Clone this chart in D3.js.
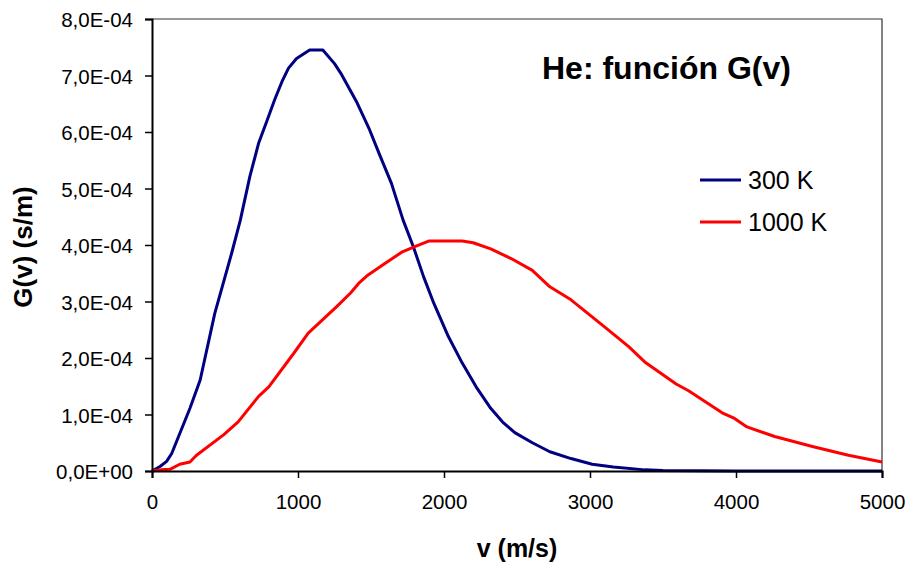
<!DOCTYPE html>
<html lang="es">
<head>
  <meta charset="utf-8">
  <title>He: función G(v)</title>
  <script src="https://d3js.org/d3.v7.min.js"></script>
  <style>
    body { margin: 0; background: #fff; }
    svg text { font-family: "Liberation Sans", Arial, sans-serif; fill: #000; }
    .tick text { font-size: 20.5px; }
    .line { fill: none; stroke-width: 3px; stroke-linejoin: round; }
  </style>
</head>
<body>
<svg width="909" height="565"></svg>
<script>
// velocidades (m/s) y G(v) en unidades de 1e-4 s/m
var v300 = [0, 55, 100, 135, 260, 330, 430, 545, 605, 670, 730, 785, 840, 890, 935, 990, 1080, 1170, 1250, 1300, 1400, 1490, 1560, 1640, 1720, 1790, 1860, 1930, 2030, 2125, 2220, 2320, 2400, 2485, 2605, 2725, 2870, 3015, 3160, 3375, 3500, 4000, 5000];
var g300 = [0, 0.08, 0.17, 0.31, 1.11, 1.61, 2.79, 3.85, 4.44, 5.21, 5.80, 6.18, 6.57, 6.89, 7.13, 7.30, 7.45, 7.45, 7.21, 7.01, 6.54, 6.04, 5.59, 5.09, 4.44, 3.97, 3.44, 2.97, 2.38, 1.91, 1.49, 1.11, 0.87, 0.68, 0.50, 0.34, 0.22, 0.12, 0.07, 0.02, 0.01, 0, 0];

var v1000 = [0, 60, 123, 190, 260, 305, 490, 590, 730, 800, 970, 1070, 1265, 1360, 1415, 1480, 1600, 1715, 1800, 1895, 2125, 2200, 2320, 2460, 2605, 2725, 2870, 3110, 3265, 3375, 3590, 3675, 3905, 3990, 4075, 4265, 4530, 4770, 5000];
var g1000 = [0, 0.02, 0.03, 0.12, 0.16, 0.28, 0.64, 0.87, 1.32, 1.49, 2.08, 2.44, 2.91, 3.15, 3.32, 3.47, 3.68, 3.88, 3.97, 4.07, 4.07, 4.04, 3.93, 3.76, 3.55, 3.26, 3.03, 2.53, 2.20, 1.93, 1.54, 1.42, 1.03, 0.93, 0.78, 0.61, 0.43, 0.28, 0.16];

var xTicks = [0, 1000, 2000, 3000, 4000, 5000];
var yTicks = [0, 1e-4, 2e-4, 3e-4, 4e-4, 5e-4, 6e-4, 7e-4, 8e-4];
var series = [
  {name: "300 K", color: "#000080", v: v300, g: g300},
  {name: "1000 K", color: "#ff0000", v: v1000, g: g1000}
];

var svg = d3.select("svg"),
    margin = {top: 19, right: 27, bottom: 94, left: 152},
    width = 909 - margin.left - margin.right,
    height = 565 - margin.top - margin.bottom,
    g = svg.append("g").attr("transform", "translate(" + margin.left + "," + margin.top + ")");

var x = d3.scaleLinear().domain([0, 5000]).range([0, width]),
    y = d3.scaleLinear().domain([0, 8e-4]).range([height, 0]);

// formato tipo Excel: 8,0E-04
function fmtExp(d) {
  var s = d.toExponential(1).split("e");
  var exp = parseInt(s[1]);
  var e = (exp < 0 ? "-" : "+") + (Math.abs(exp) < 10 ? "0" : "") + Math.abs(exp);
  return s[0].replace(".", ",") + "E" + e;
}

// marco superior y derecho
g.append("path")
    .attr("d", "M0,0H" + width + "V" + height)
    .attr("fill", "none")
    .attr("stroke", "#333")
    .attr("stroke-width", 1.2);

var line = d3.line()
    .x(function(d) { return x(d[0]); })
    .y(function(d) { return y(d[1] * 1e-4); });

series.forEach(function(s) {
  g.append("path")
      .attr("class", "line")
      .attr("stroke", s.color)
      .attr("d", line(d3.zip(s.v, s.g)));
});

var xAxis = g.append("g")
    .attr("transform", "translate(0," + height + ")")
    .call(d3.axisBottom(x).tickValues(xTicks).tickSize(7).tickPadding(12).tickFormat(d3.format("d")));
var yAxis = g.append("g")
    .call(d3.axisLeft(y).tickValues(yTicks).tickSize(7).tickPadding(12).tickFormat(fmtExp));

[xAxis, yAxis].forEach(function(a) {
  a.select(".domain").attr("stroke", "#000").attr("stroke-width", 2);
  a.selectAll(".tick line").attr("stroke", "#000").attr("stroke-width", 1.5);
  a.attr("font-family", null).attr("font-size", null);
});
yAxis.selectAll(".tick text").attr("dy", "0.38em");
xAxis.selectAll(".tick text").attr("dy", "0.95em");

// títulos
svg.append("text")
    .attr("x", 542).attr("y", 79)
    .style("font-size", "32px").style("font-weight", "bold")
    .text("He: función G(v)");

svg.append("text")
    .attr("x", 517).attr("y", 557)
    .attr("text-anchor", "middle")
    .style("font-size", "25px").style("font-weight", "bold")
    .text("v (m/s)");

svg.append("text")
    .attr("transform", "translate(32,247) rotate(-90)")
    .attr("text-anchor", "middle")
    .style("font-size", "26px").style("font-weight", "bold")
    .text("G(v) (s/m)");

// leyenda
var legend = svg.append("g").attr("transform", "translate(700,180)");
var item = legend.selectAll("g")
    .data(series)
    .enter().append("g")
    .attr("transform", function(d, i) { return "translate(0," + i * 42 + ")"; });
item.append("line")
    .attr("x1", 0).attr("x2", 41)
    .attr("stroke", function(d) { return d.color; })
    .attr("stroke-width", 3);
item.append("text")
    .attr("x", 48).attr("dy", "0.36em")
    .style("font-size", "25px")
    .text(function(d) { return d.name; });
</script>
</body>
</html>
